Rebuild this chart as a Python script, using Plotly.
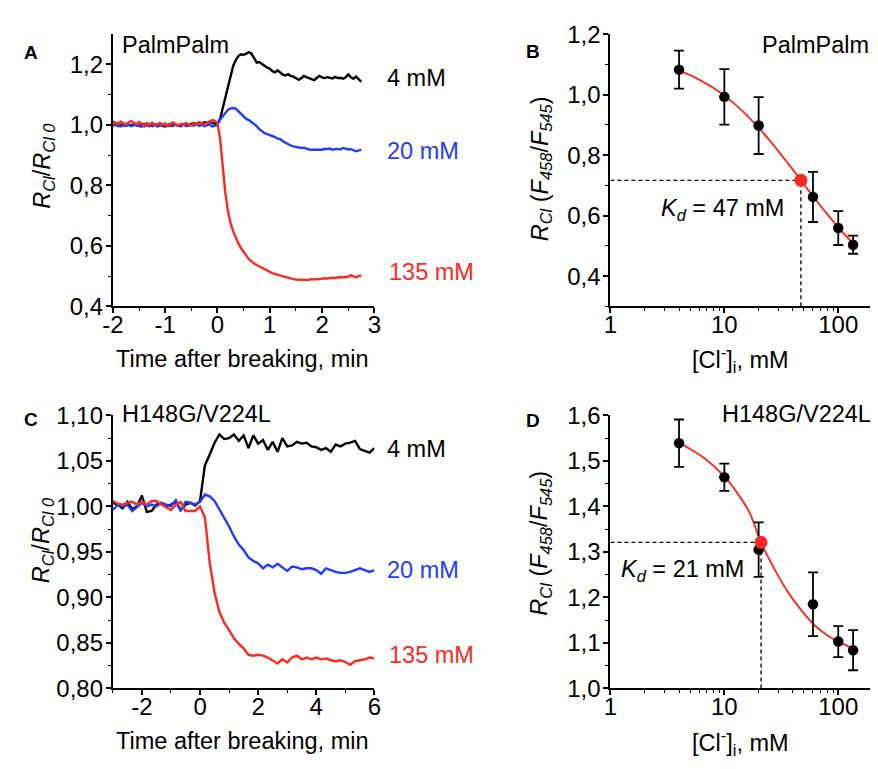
import numpy as np
import plotly.graph_objects as go

W, H = 878, 769
FONT = "Liberation Sans, Arial, sans-serif"
BLACK, BLUE, RED = "#000000", "#1f3cff", "#ff2a1f"
TS = 23.5   # text size
KS = 24     # tick label size

# ---------------- Panel A (PalmPalm time courses) ----------------
tA = np.linspace(-2, 2.75, 96)
A_4mM = [0.998, 1.002, 0.996, 0.999, 1.003, 0.997, 1.001, 0.998, 1.002, 0.999,
         0.997, 1.001, 1.003, 0.998, 1.000, 0.996, 1.002, 0.999, 1.001, 0.997,
         0.995, 1.000, 1.003, 0.998, 1.001, 0.999, 0.996, 1.002, 1.000, 0.998,
         1.004, 1.006, 1.003, 1.008, 1.005, 1.009, 1.006, 1.011, 1.008, 1.004, 1.003,
         1.02, 1.055, 1.09, 1.125, 1.165, 1.195, 1.215, 1.228, 1.234, 1.232,
         1.236, 1.241, 1.236, 1.222, 1.206, 1.208, 1.203, 1.196, 1.19, 1.186,
         1.178, 1.174, 1.181, 1.172, 1.166, 1.164, 1.168, 1.162, 1.16, 1.155,
         1.149, 1.154, 1.162, 1.158, 1.155, 1.15, 1.148, 1.156, 1.162, 1.157,
         1.155, 1.158, 1.156, 1.154, 1.159, 1.155, 1.156, 1.153, 1.158, 1.167,
         1.158, 1.153, 1.16, 1.151, 1.143]
A_20mM = [1.012, 1.003, 0.998, 0.995, 0.999, 0.997, 1.001, 0.996, 0.999, 1.002,
          0.997, 0.994, 0.999, 1.001, 0.996, 0.998, 1.002, 0.995, 0.999, 1.003,
          0.997, 1.000, 0.996, 0.998, 1.001, 0.997, 0.999, 1.002, 0.996, 0.999,
          1.001, 0.998, 1.003, 0.997, 1.000, 0.996, 0.999, 1.002, 0.995, 0.998, 1.000,
          1.018, 1.03, 1.042, 1.05, 1.055, 1.056, 1.054, 1.045, 1.036, 1.026,
          1.02, 1.016, 1.01, 1.005, 0.996, 0.986, 0.978, 0.973, 0.97, 0.967,
          0.965, 0.96, 0.955, 0.953, 0.946, 0.941, 0.937, 0.932, 0.929, 0.927,
          0.926, 0.924, 0.925, 0.921, 0.919, 0.918, 0.918, 0.92, 0.919, 0.918,
          0.921, 0.92, 0.922, 0.918, 0.92, 0.921, 0.919, 0.924, 0.922, 0.919,
          0.92, 0.917, 0.913, 0.916, 0.918]
A_135mM = [1.000, 1.008, 1.004, 1.011, 1.006, 1.002, 1.009, 1.013, 1.007, 1.002,
           1.010, 1.004, 0.995, 1.006, 1.001, 1.008, 0.998, 1.003, 1.007, 1.000,
           1.005, 0.997, 1.003, 1.008, 1.002, 0.999, 1.004, 1.001, 1.006, 1.002,
           0.998, 1.005, 1.003, 1.009, 1.004, 1.001, 1.007, 1.012, 1.016, 1.014, 1.005,
           0.955, 0.865, 0.775, 0.715, 0.675, 0.648, 0.625, 0.608, 0.593, 0.582,
           0.568, 0.556, 0.548, 0.542, 0.537, 0.532, 0.527, 0.522, 0.518, 0.514,
           0.51, 0.507, 0.504, 0.502, 0.5, 0.497, 0.495, 0.492, 0.49, 0.489,
           0.488, 0.489, 0.487, 0.487, 0.488, 0.49, 0.489, 0.491, 0.49, 0.492,
           0.493, 0.492, 0.494, 0.495, 0.494, 0.496, 0.497, 0.496, 0.498, 0.497,
           0.503, 0.499, 0.496, 0.501, 0.502]

# ---------------- Panel C (H148G/V224L time courses) ----------------
tC = np.linspace(-3, 6, 55)
C_4mM = [1.004, 1.002, 0.998, 1.005, 0.997, 1.000, 1.012, 0.994, 0.995, 1.002,
         1.004, 1.000, 1.002, 1.005, 0.996, 1.002, 1.004, 1.001, 1.006, 1.045,
         1.057, 1.070, 1.079, 1.074, 1.075, 1.079, 1.072, 1.078, 1.064, 1.078,
         1.069, 1.073, 1.062, 1.071, 1.060, 1.075, 1.066, 1.067, 1.071, 1.069,
         1.070, 1.066, 1.065, 1.062, 1.064, 1.060, 1.068, 1.066, 1.069, 1.070,
         1.072, 1.063, 1.061, 1.059, 1.064]
C_20mM = [0.996, 1.002, 1.000, 1.002, 0.995, 1.000, 1.004, 1.000, 1.002, 1.000,
          1.004, 1.002, 1.000, 1.007, 0.995, 1.005, 1.004, 1.002, 1.005, 1.013,
          1.011, 1.006, 0.997, 0.987, 0.978, 0.967, 0.958, 0.952, 0.944, 0.940,
          0.9375, 0.932, 0.936, 0.933, 0.937, 0.933, 0.929, 0.934, 0.933, 0.931,
          0.932, 0.932, 0.930, 0.926, 0.932, 0.930, 0.928, 0.927, 0.927, 0.928,
          0.930, 0.932, 0.930, 0.928, 0.930]
C_135mM = [1.006, 1.003, 1.002, 1.004, 1.005, 1.002, 1.005, 1.002, 1.006, 1.006,
           1.002, 0.999, 0.996, 1.002, 1.005, 0.995, 0.995, 0.995, 1.000, 0.988,
           0.938, 0.905, 0.884, 0.872, 0.864, 0.855, 0.849, 0.844, 0.837, 0.836,
           0.837, 0.836, 0.834, 0.831, 0.8275, 0.832, 0.8286, 0.834, 0.836, 0.832,
           0.834, 0.832, 0.834, 0.832, 0.833, 0.831, 0.830, 0.831, 0.829, 0.826,
           0.830, 0.831, 0.832, 0.834, 0.833]

# ---------------- Panels B and D (titration) ----------------
conc = [4, 10, 20, 60, 100, 135]
B_mean = [1.083, 0.993, 0.898, 0.662, 0.559, 0.504]
B_err = [0.063, 0.092, 0.094, 0.083, 0.056, 0.030]
B_Kd, B_RKd = 47, 0.717
B_fit_x = [4, 5, 6, 7, 8, 10, 12, 15, 18, 20, 25, 30, 35, 40, 47, 55, 60, 70, 80, 90, 100, 115, 135]
B_fit_y = [1.080, 1.065, 1.050, 1.036, 1.023, 0.997, 0.973, 0.940, 0.909, 0.891, 0.849, 0.812,
           0.780, 0.752, 0.717, 0.683, 0.665, 0.632, 0.605, 0.582, 0.562, 0.536, 0.509]

D_mean = [1.539, 1.464, 1.305, 1.185, 1.103, 1.084]
D_err = [0.052, 0.030, 0.060, 0.070, 0.034, 0.044]
D_Kd, D_RKd = 21, 1.321
D_fit_x = [4, 4.4, 6.6, 10, 12.7, 16.6, 21, 28, 36.6, 47.7, 62, 81, 100, 135]
D_fit_y = [1.545, 1.535, 1.507, 1.466, 1.433, 1.387, 1.321, 1.259, 1.210, 1.171, 1.139, 1.116, 1.103, 1.088]

# tick labels
A_xt = [-2, -1, 0, 1, 2, 3]; A_xl = ["-2", "-1", "0", "1", "2", "3"]
A_yt = [0.4, 0.6, 0.8, 1.0, 1.2]; A_yl = ["0,4", "0,6", "0,8", "1,0", "1,2"]
C_xt = [-2, 0, 2, 4, 6]; C_xl = ["-2", "0", "2", "4", "6"]
C_yt = [0.80, 0.85, 0.90, 0.95, 1.00, 1.05, 1.10]
C_yl = ["0,80", "0,85", "0,90", "0,95", "1,00", "1,05", "1,10"]
B_yt = [0.4, 0.6, 0.8, 1.0, 1.2]; B_yl = ["0,4", "0,6", "0,8", "1,0", "1,2"]
D_yt = [1.0, 1.1, 1.2, 1.3, 1.4, 1.5, 1.6]; D_yl = ["1,0", "1,1", "1,2", "1,3", "1,4", "1,5", "1,6"]
log_t = [1, 10, 100]; log_l = ["1", "10", "100"]
log_minor = [2, 3, 4, 5, 6, 7, 8, 9, 20, 30, 40, 50, 60, 70, 80, 90]

fig = go.Figure()

def line(x, y, color, xa, ya, width=2.4):
    fig.add_trace(go.Scatter(x=x, y=y, mode="lines", line=dict(color=color, width=width),
                             xaxis=xa, yaxis=ya, showlegend=False, hoverinfo="skip"))

for y, c in [(A_4mM, BLACK), (A_20mM, BLUE), (A_135mM, RED)]:
    line(tA, y, c, "x", "y")
for y, c in [(C_4mM, BLACK), (C_20mM, BLUE), (C_135mM, RED)]:
    line(tC, y, c, "x3", "y3")

def titr(xa, ya, mean, err, fx, fy, kd, rkd, ybot):
    fig.add_trace(go.Scatter(x=[1, kd], y=[rkd, rkd], mode="lines",
                             line=dict(color=BLACK, width=1.3, dash="4px,3px"),
                             xaxis=xa, yaxis=ya, showlegend=False, hoverinfo="skip"))
    fig.add_trace(go.Scatter(x=[kd, kd], y=[ybot, rkd], mode="lines",
                             line=dict(color=BLACK, width=1.3, dash="4px,3px"),
                             xaxis=xa, yaxis=ya, showlegend=False, hoverinfo="skip"))
    fig.add_trace(go.Scatter(x=fx, y=fy, mode="lines", line=dict(color=RED, width=1.9, shape="spline"),
                             xaxis=xa, yaxis=ya, showlegend=False, hoverinfo="skip"))
    fig.add_trace(go.Scatter(x=conc, y=mean, mode="markers",
                             marker=dict(color=BLACK, size=10.5),
                             error_y=dict(type="data", array=err, color=BLACK, thickness=1.8, width=5),
                             xaxis=xa, yaxis=ya, showlegend=False, hoverinfo="skip"))
    fig.add_trace(go.Scatter(x=[kd], y=[rkd], mode="markers", marker=dict(color=RED, size=13),
                             xaxis=xa, yaxis=ya, showlegend=False, hoverinfo="skip"))

titr("x2", "y2", B_mean, B_err, B_fit_x, B_fit_y, B_Kd, B_RKd, 0.3)
titr("x4", "y4", D_mean, D_err, D_fit_x, D_fit_y, D_Kd, D_RKd, 1.0)

def axis(domain, anchor, tv, tt, rng, minor_vals, typ="linear", standoff=0):
    return dict(domain=domain, anchor=anchor, type=typ, range=rng, showline=True, linecolor=BLACK,
                linewidth=2, ticks="outside", ticklen=5, tickwidth=1.6, tickcolor=BLACK,
                showgrid=False, zeroline=False, tickvals=tv, ticktext=tt,
                ticklabelstandoff=standoff,
                tickfont=dict(family=FONT, size=KS, color=BLACK),
                minor=dict(ticks="outside", ticklen=3, tickwidth=1.4, tickcolor=BLACK,
                           tickvals=minor_vals, showgrid=False),
                fixedrange=True)

xL = [104 / W, 371 / W]
xR = [612 / W, 0.999]
yT = [1 - 303 / H, 1 - 21 / H]
yB = [1 - 699 / H, 1 - 416 / H]

fig.update_layout(
    width=W, height=H, margin=dict(l=0, r=0, t=0, b=0),
    paper_bgcolor="white", plot_bgcolor="white",
    font=dict(family=FONT, color=BLACK, size=TS),
    xaxis=axis(xL, "y", A_xt, A_xl, [-2, 3], [-1.5, -0.5, 0.5, 1.5, 2.5], standoff=-9),
    yaxis=axis(yT, "x", A_yt, A_yl, [0.4, 1.3], [0.5, 0.7, 0.9, 1.1], standoff=-2),
    xaxis2=axis(xR, "y2", log_t, log_l, [0, 2.28], log_minor, "log", standoff=-9),
    yaxis2=axis(yT, "x2", B_yt, B_yl, [0.3, 1.2], [0.3, 0.5, 0.7, 0.9, 1.1], standoff=-2),
    xaxis3=axis(xL, "y3", C_xt, C_xl, [-3, 6], [-3, -1, 1, 3, 5], standoff=-9),
    yaxis3=axis(yB, "x3", C_yt, C_yl, [0.8, 1.1], [0.825, 0.875, 0.925, 0.975, 1.025, 1.075], standoff=-2),
    xaxis4=axis(xR, "y4", log_t, log_l, [0, 2.28], log_minor, "log", standoff=-9),
    yaxis4=axis(yB, "x4", D_yt, D_yl, [1.0, 1.6], [1.05, 1.15, 1.25, 1.35, 1.45, 1.55], standoff=-2),
)

ann = []
def txt(px, py, text, size=TS, color=BLACK, xanchor="left", angle=0):
    ann.append(dict(x=px / W, y=1 - py / H, xref="paper", yref="paper", text=text,
                    showarrow=False, xanchor=xanchor, yanchor="middle", textangle=angle,
                    borderpad=0, font=dict(family=FONT, size=size, color=color)))

for lab, px, py in [("A", 20, 40), ("B", 533, 39), ("C", 20, 420), ("D", 533, 421)]:
    txt(px, py, "<b>%s</b>" % lab, size=19, xanchor="center")

txt(112, 32, "PalmPalm")
txt(383, 66, "4 mM")
txt(383, 142, "20 mM", color=BLUE)
txt(385, 267, "135 mM", color=RED)
txt(877, 32, "PalmPalm", xanchor="right")
txt(663, 203, "<i>K</i><sub><i>d</i></sub> = %d mM" % B_Kd)

txt(112, 415, "H148G/V224L")
txt(383, 451, "4 mM")
txt(383, 576, "20 mM", color=BLUE)
txt(385, 664, "135 mM", color=RED)
txt(725, 415, "H148G/V224L")
txt(622, 577, "<i>K</i><sub><i>d</i></sub> = %d mM" % D_Kd)

ytitle_L = "<i>R</i><sub><i>Cl</i></sub>/<i>R</i><sub><i>Cl 0</i></sub>"
ytitle_R = "<i>R</i><sub><i>Cl</i></sub> (<i>F</i><sub><i>458</i></sub>/<i>F</i><sub><i>545</i></sub>)"
txt(33, 158, ytitle_L, xanchor="center", angle=-90)
txt(33, 546, ytitle_L, xanchor="center", angle=-90)
txt(541, 160, ytitle_R, xanchor="center", angle=-90)
txt(541, 548, ytitle_R, xanchor="center", angle=-90)

xtitle_L = "Time after breaking, min"
xtitle_R = "[Cl<sup>-</sup>]<sub>i</sub>, mM"
txt(236, 358, xtitle_L, xanchor="center")
txt(236, 753, xtitle_L, xanchor="center")
txt(745, 358, xtitle_R, xanchor="center")
txt(745, 755, xtitle_R, xanchor="center")

fig.update_layout(annotations=ann)
fig.write_html("out.html")
